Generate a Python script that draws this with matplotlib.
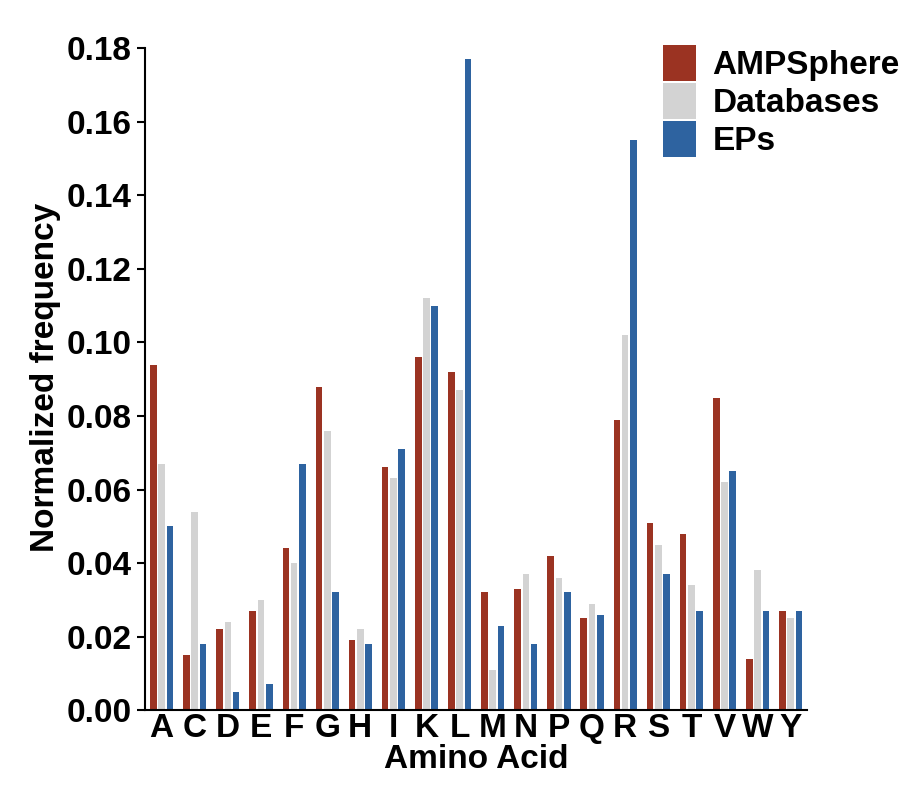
import numpy as np
import matplotlib
matplotlib.use("Agg")
import matplotlib.pyplot as plt

amino = ["A", "C", "D", "E", "F", "G", "H", "I", "K", "L",
         "M", "N", "P", "Q", "R", "S", "T", "V", "W", "Y"]
ampsphere = [0.094, 0.015, 0.022, 0.027, 0.044, 0.088, 0.019, 0.066, 0.096, 0.092,
             0.032, 0.033, 0.042, 0.025, 0.079, 0.051, 0.048, 0.085, 0.014, 0.027]
databases = [0.067, 0.054, 0.024, 0.030, 0.040, 0.076, 0.022, 0.063, 0.112, 0.087,
             0.011, 0.037, 0.036, 0.029, 0.102, 0.045, 0.034, 0.062, 0.038, 0.025]
eps = [0.050, 0.018, 0.005, 0.007, 0.067, 0.032, 0.018, 0.071, 0.110, 0.177,
       0.023, 0.018, 0.032, 0.026, 0.155, 0.037, 0.027, 0.065, 0.027, 0.027]
series = {"AMPSphere": ampsphere, "Databases": databases, "EPs": eps}
colors = ["#9b3322", "#d3d3d3", "#2e63a0"]

plt.rcParams["font.family"] = "Liberation Sans"
plt.rcParams["font.weight"] = "bold"

fig = plt.figure(figsize=(9.07, 7.97), dpi=100)
ax = fig.add_axes([0.16, 0.109, 0.73, 0.835])

x = np.arange(len(amino))
w = 0.2
for i, (name, vals) in enumerate(series.items()):
    ax.bar(x + (i - 1) * (w + 0.05), vals, width=w, color=colors[i], label=name)

ax.set_xlim(-0.5, len(amino) - 0.5)
ax.set_ylim(0, 0.181)
ax.set_yticks(np.arange(0, 0.181, 0.02))
ax.set_yticklabels([f"{v:.2f}" for v in np.arange(0, 0.181, 0.02)])
ax.set_xticks(x)
ax.set_xticklabels(amino)
ax.tick_params(axis="both", labelsize=24, width=1.5, length=6)
ax.tick_params(axis="x", length=0, pad=2)
for s in ("top", "right"):
    ax.spines[s].set_visible(False)
ax.spines["left"].set_linewidth(1.5)
ax.spines["bottom"].set_linewidth(1.5)
ax.spines["left"].set_bounds(0, 0.18)
ax.set_ylabel("Normalized frequency", fontsize=24, fontweight="bold", labelpad=4)
ax.set_xlabel("Amino Acid", fontsize=24, fontweight="bold", labelpad=0)
ax.legend(loc="upper right", bbox_to_anchor=(1.16, 1.02), frameon=False,
          fontsize=24, handlelength=1.0, handleheight=1.3, handletextpad=0.5,
          labelspacing=0.05, borderaxespad=0)

fig.savefig("out.png", dpi=100)
